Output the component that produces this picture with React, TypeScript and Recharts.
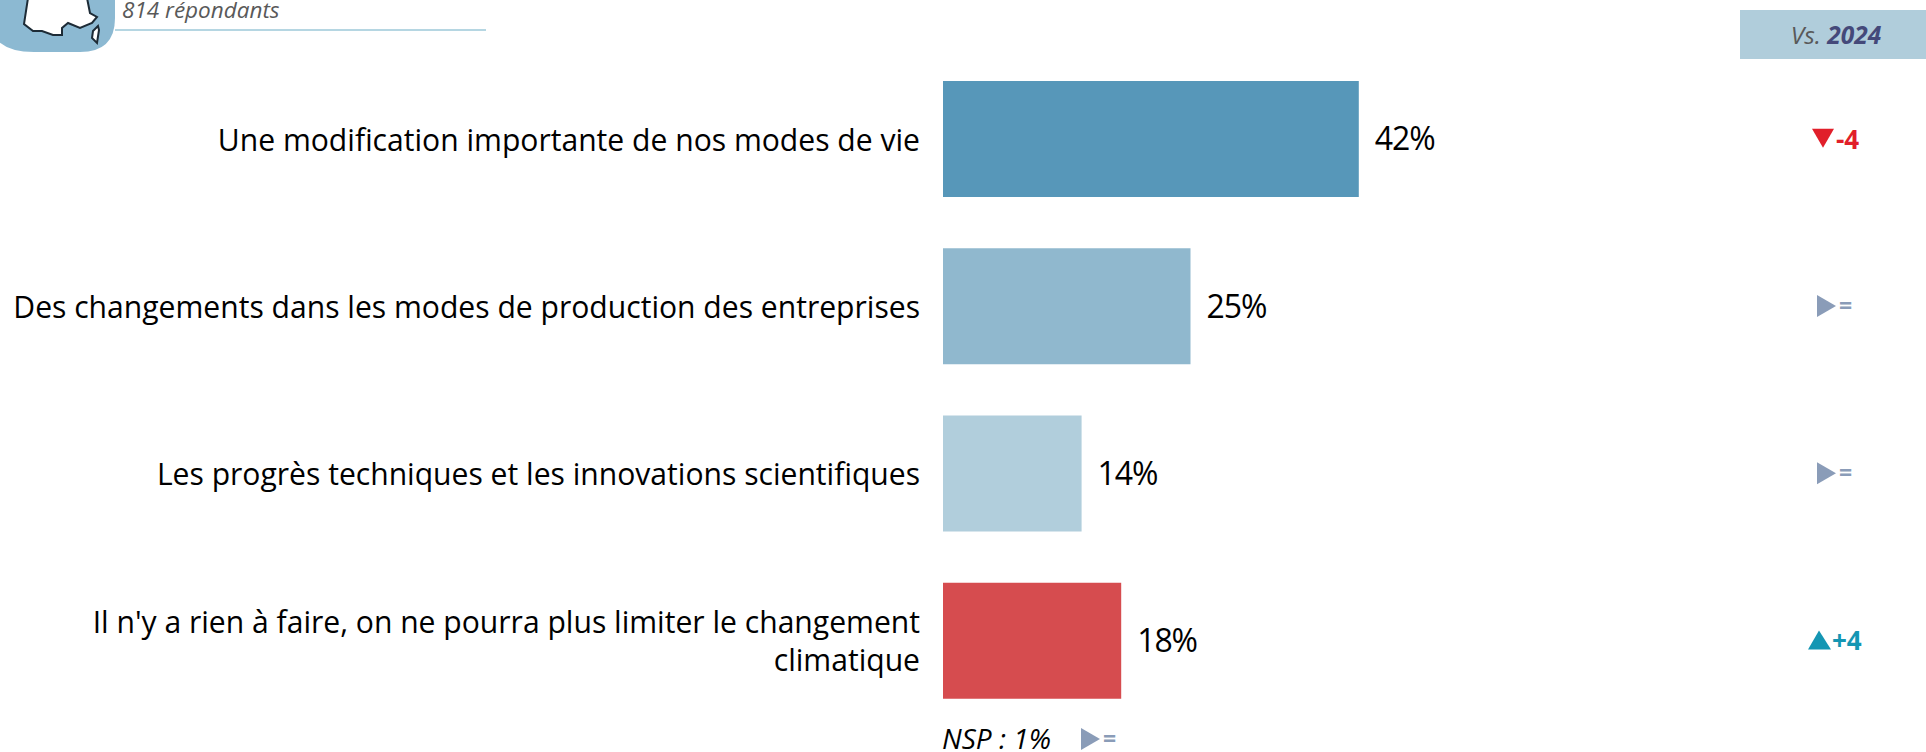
import { BarChart, Bar, XAxis, YAxis, Cell, LabelList, Customized } from "recharts";

const categories = [
  "Une modification importante de nos modes de vie",
  "Des changements dans les modes de production des entreprises",
  "Les progrès techniques et les innovations scientifiques",
  "Il n'y a rien à faire, on ne pourra plus limiter le changement climatique",
];
const values = [42, 25, 14, 18];
const barColors = ["#5797b9", "#90b8ce", "#b1cedc", "#d64c4f"];
const deltas = ["-4", "=", "=", "+4"];
const labelLines = [
  ["Une modification importante de nos modes de vie"],
  ["Des changements dans les modes de production des entreprises"],
  ["Les progrès techniques et les innovations scientifiques"],
  ["Il n'y a rien à faire, on ne pourra plus limiter le changement", "climatique"],
];

const data = categories.map((name, i) => ({ name, value: values[i] }));

const FONT = "'Open Sans', sans-serif";
const RED = "#e11f2a";
const GREY = "#8a9cb8";
const TEAL = "#1496b3";

const CategoryTick = ({ x, y, index }: any) => {
  const lines = labelLines[index];
  return (
    <text x={x} y={y} textAnchor="end" fontFamily={FONT} fontSize={30.1} fill="#000">
      {lines.map((l, i) => (
        <tspan key={i} x={x - 17} y={y + 12 + (i - (lines.length - 1) / 2) * 38}>
          {l}
        </tspan>
      ))}
    </text>
  );
};

const Arrow = ({ kind, x, y }: any) => {
  if (kind === "=") {
    return (
      <g>
        <path d={`M${x} ${y - 11}L${x + 19} ${y}L${x} ${y + 11}Z`} fill={GREY} />
        <text x={x + 22} y={y + 8} fontFamily={FONT} fontWeight="bold" fontSize={23} fill={GREY}>=</text>
      </g>
    );
  }
  const up = kind.startsWith("+");
  const color = up ? TEAL : RED;
  const d = up
    ? `M${x - 9} ${y + 9}L${x + 2} ${y - 10}L${x + 14} ${y + 9}Z`
    : `M${x - 5} ${y - 10}L${x + 17} ${y - 10}L${x + 6} ${y + 9}Z`;
  return (
    <g>
      <path d={d} fill={color} />
      <text x={up ? x + 15 : x + 19} y={y + 10} fontFamily={FONT} fontWeight="bold" fontSize={26} fill={color}>{kind}</text>
    </g>
  );
};

const DeltaTick = ({ x, y, index }: any) => <Arrow kind={deltas[index]} x={x - 25} y={y} />;

const Extras = () => (
  <g>
    <path d="M-10 -10H115V18Q115 52 80 52H34Q-2 52 -10 28Z" fill="#8cb9d2" />
    <path
      d="M28 -2L24 24L33 31L42 31L53 35L62 35L62 28L68 23L80 28L92 23L97 17L90 13L87 -2Z"
      fill="#fff"
      stroke="#1d2b36"
      strokeWidth={2}
    />
    <path d="M98 26L93 31L92 38L97 43L99 30Z" fill="#fff" stroke="#1d2b36" strokeWidth={2} />
    <line x1={115} x2={486} y1={30} y2={30} stroke="#9cc8d8" strokeWidth={1.5} />
    <text x={122} y={18} fontFamily={FONT} fontStyle="italic" fontSize={22.5} fill="#595959">814 répondants</text>
    <rect x={1740} y={10} width={186} height={49} fill="#b0cddb" />
    <text x={1836} y={44} textAnchor="middle" fontFamily={FONT} fontStyle="italic" fontSize={24.5} fill="#595959">
      Vs. <tspan fontWeight="bold" fill="#44497a">2024</tspan>
    </text>
    <text x={942} y={749} fontFamily={FONT} fontStyle="italic" fontSize={28} fill="#000">NSP : 1%</text>
    <Arrow kind="=" x={1081} y={739} />
  </g>
);

export default function App() {
  return (
    <div style={{ position: "absolute", left: 0, top: 0, width: 1926, height: 752, background: "#fff", overflow: "hidden" }}>
      <BarChart
        width={1926}
        height={752}
        data={data}
        layout="vertical"
        barSize={116}
        margin={{ top: 55, right: 0, bottom: 28, left: 0 }}
      >
        <XAxis type="number" hide domain={[0, 90]} />
        <YAxis
          yAxisId="left"
          type="category"
          dataKey="name"
          width={943}
          axisLine={false}
          tickLine={false}
          tick={<CategoryTick />}
          tickMargin={0}
          interval={0}
        />
        <YAxis
          yAxisId="right"
          orientation="right"
          type="category"
          dataKey="name"
          width={92}
          axisLine={false}
          tickLine={false}
          tick={<DeltaTick />}
          interval={0}
        />
        <Bar yAxisId="left" dataKey="value" isAnimationActive={false}>
          {values.map((_, i) => (
            <Cell key={i} fill={barColors[i]} />
          ))}
          <LabelList
            dataKey="value"
            position="right"
            offset={16}
            formatter={(v: any) => `${v}%`}
            style={{ fontFamily: FONT, fontSize: 32, fill: "#000", letterSpacing: -1.1 }}
          />
        </Bar>
        <Customized component={Extras} />
      </BarChart>
    </div>
  );
}
